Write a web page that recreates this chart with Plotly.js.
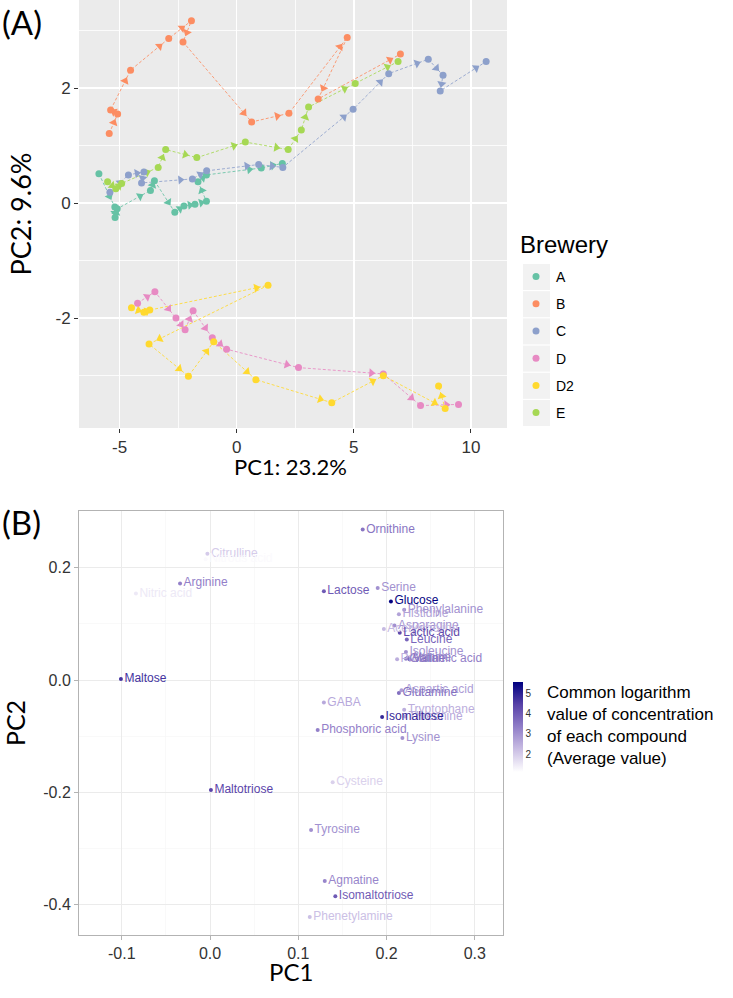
<!DOCTYPE html>
<html>
<head>
<meta charset="utf-8">
<script src="https://cdn.plot.ly/plotly-3.0.1.min.js"></script>
<style>html,body{margin:0;padding:0;background:#fff;}#plot{width:733px;height:998px;}</style>
</head>
<body>
<div id="plot"></div>
<script>
// ---------- Panel A data (PC scores, in path order) ----------
const breweries = ['A', 'B', 'C', 'D', 'D2', 'E'];
const pcA_x = [-5.88, -5.20, -5.19, -5.10, -3.68, -3.51, -2.64, -2.25, -1.78, -1.29, -1.65, -1.29, 1.05, 1.95];
const pcA_y = [0.51, -0.07, -0.25, -0.10, 0.22, 0.39, -0.16, -0.05, -0.02, 0.03, 0.37, 0.49, 0.61, 0.69];
const pcB_x = [-5.44, -5.08, -5.38, -4.53, -2.90, -1.93, -2.29, 0.64, 2.23, 4.72, 3.48, 6.99];
const pcB_y = [1.21, 1.55, 1.62, 2.31, 2.86, 3.17, 2.80, 1.41, 1.56, 2.88, 1.81, 2.59];
const pcC_x = [-5.41, -4.62, -3.96, -4.06, -1.89, -1.28, 0.94, 1.97, 4.97, 6.49, 8.18, 8.81, 8.69, 10.65];
const pcC_y = [0.19, 0.49, 0.54, 0.35, 0.42, 0.56, 0.67, 0.62, 1.63, 2.25, 2.50, 2.22, 1.95, 2.46];
const pcD_x = [-4.23, -3.49, -2.59, -2.20, -1.86, -1.04, -0.43, 2.64, 6.26, 7.85, 9.47];
const pcD_y = [-1.74, -1.54, -2.00, -2.20, -1.87, -2.34, -2.54, -2.86, -2.97, -3.52, -3.50];
const pcD2_x = [-4.49, -3.96, -3.71, 1.34, -3.74, -2.06, -0.98, 0.82, 4.06, 6.26, 8.90, 8.62];
const pcD2_y = [-1.82, -1.90, -1.86, -1.43, -2.45, -3.01, -2.41, -3.07, -3.47, -3.00, -3.57, -3.18];
const pcE_x = [-5.51, -5.16, -4.91, -3.35, -3.03, -1.70, 0.37, 2.20, 2.76, 3.07, 5.06, 6.89];
const pcE_y = [0.37, 0.25, 0.34, 0.62, 0.93, 0.79, 1.06, 0.93, 1.27, 1.67, 2.08, 2.46];
const breweryColors = ['#66C2A5', '#FC8D62', '#8DA0CB', '#E78AC3', '#FFD92F', '#A6D854'];

// tick labels
const A_xTickVals = [-5, 0, 5, 10];
const A_xTickText = ['-5', '0', '5', '10'];
const A_yTickVals = [-2, 0, 2];
const A_yTickText = ['-2', '0', '2'];
const B_xTickVals = [-0.1, 0, 0.1, 0.2, 0.3];
const B_xTickText = ['-0.1', '0.0', '0.1', '0.2', '0.3'];
const B_yTickVals = [-0.4, -0.2, 0, 0.2];
const B_yTickText = ['-0.4', '-0.2', '0.0', '0.2'];

// ---------- Panel B data (loadings) ----------
const compounds = ['Ornithine', 'Citrulline', 'Nitrous acid', 'Arginine', 'Nitric acid', 'Lactose', 'Serine', 'Glucose',
  'Phenylalanine', 'Histidine', 'Asparagine', 'Acetylcholine', 'Lactic acid', 'Leucine', 'Isoleucine', 'Proline',
  'Alanine', 'Valine', 'Glutamic acid', 'Maltose', 'Aspartic acid', 'Glutamine', 'GABA', 'Tryptophane', 'Threonine',
  'Isomaltose', 'Phosphoric acid', 'Lysine', 'Maltotriose', 'Cysteine', 'Tyrosine', 'Agmatine', 'Isomaltotriose', 'Phenetylamine'];
const loadPC1 = [0.173, -0.003, -0.005, -0.034, -0.084, 0.129, 0.190, 0.205,
  0.220, 0.214, 0.209, 0.197, 0.215, 0.223, 0.222, 0.212,
  0.224, 0.226, 0.222, -0.101, 0.217, 0.214, 0.129, 0.220, 0.221,
  0.195, 0.122, 0.218, 0.001, 0.139, 0.1145, 0.130, 0.142, 0.113];
const loadPC2 = [0.268, 0.225, 0.215, 0.172, 0.154, 0.158, 0.164, 0.140,
  0.125, 0.117, 0.097, 0.091, 0.084, 0.072, 0.050, 0.037,
  0.040, 0.037, 0.038, 0.002, -0.018, -0.023, -0.040, -0.053, -0.065,
  -0.066, -0.089, -0.103, -0.196, -0.182, -0.267, -0.358, -0.385, -0.422];
const logConc = [3.5, 2.0, 1.2, 3.3, 1.5, 4.0, 3.0, 5.5,
  3.0, 2.7, 3.0, 2.3, 4.3, 3.8, 3.0, 2.5,
  3.1, 3.7, 3.3, 4.7, 2.8, 3.6, 2.6, 2.5, 2.6,
  4.9, 3.3, 3.0, 4.4, 1.9, 3.0, 3.2, 4.0, 2.2];
const colorTicks = [2, 3, 4, 5];

// ---------- layout geometry (pixels) ----------
const W = 733, H = 998;
const A_left = 79, A_right = 507, A_top = 0, A_bottom = 428;
const B_left = 79, B_right = 503, B_top = 511, B_bottom = 935;
const A_xr = [-6.73, 11.54], A_yr = [-3.91, 3.53];
const B_xr = [-0.1485, 0.332], B_yr = [-0.454, 0.301];
const cmin = 1.12, cmax = 5.55;
const stops = [[0, [255, 255, 255]], [0.25, [202, 190, 228]], [0.5, [145, 126, 200]], [0.75, [88, 66, 168]], [1, [0, 0, 128]]];

function valueColor(v) {
  let t = Math.max(0, Math.min(1, (v - cmin) / (cmax - cmin)));
  for (let i = 1; i < stops.length; i++) {
    if (t <= stops[i][0]) {
      const f = (t - stops[i - 1][0]) / (stops[i][0] - stops[i - 1][0]);
      const c = stops[i - 1][1].map((a, k) => Math.round(a + (stops[i][1][k] - a) * f));
      return 'rgb(' + c.join(',') + ')';
    }
  }
  return 'rgb(0,0,128)';
}

const sx = (A_right - A_left) / (A_xr[1] - A_xr[0]);
const sy = (A_bottom - A_top) / (A_yr[1] - A_yr[0]);

const seriesX = [pcA_x, pcB_x, pcC_x, pcD_x, pcD2_x, pcE_x];
const seriesY = [pcA_y, pcB_y, pcC_y, pcD_y, pcD2_y, pcE_y];

const traces = [];
// dotted paths
breweries.forEach((b, i) => {
  traces.push({
    x: seriesX[i], y: seriesY[i], type: 'scatter', mode: 'lines',
    line: {color: breweryColors[i], width: 1, dash: '3px,2px'},
    opacity: 0.85, showlegend: false, hoverinfo: 'skip', xaxis: 'x', yaxis: 'y'
  });
});
// arrow heads near the end of each segment
breweries.forEach((b, i) => {
  const xs = seriesX[i], ys = seriesY[i];
  const ax = [], ay = [], ang = [];
  for (let k = 0; k < xs.length - 1; k++) {
    const dxp = (xs[k + 1] - xs[k]) * sx, dyp = (ys[k + 1] - ys[k]) * sy;
    const L = Math.hypot(dxp, dyp);
    if (L < 1) continue;
    const d = Math.min(12, 0.45 * L);
    ax.push(xs[k + 1] - dxp / L * d / sx);
    ay.push(ys[k + 1] - dyp / L * d / sy);
    ang.push(Math.atan2(dxp, dyp) * 180 / Math.PI);
  }
  traces.push({
    x: ax, y: ay, type: 'scatter', mode: 'markers',
    marker: {symbol: 'triangle-up', size: 8, color: breweryColors[i], angle: ang, line: {width: 0}},
    showlegend: false, hoverinfo: 'skip', xaxis: 'x', yaxis: 'y'
  });
});
// points
breweries.forEach((b, i) => {
  traces.push({
    x: seriesX[i], y: seriesY[i], type: 'scatter', mode: 'markers', name: b,
    legendgroup: b,
    marker: {size: 7, color: breweryColors[i]},
    xaxis: 'x', yaxis: 'y'
  });
});
// panel B
const txtColors = logConc.map(valueColor);
traces.push({
  x: loadPC1, y: loadPC2, text: compounds, type: 'scatter', mode: 'markers+text',
  textposition: 'middle right',
  textfont: {family: 'Liberation Sans, Arial, sans-serif', size: 12, color: txtColors},
  marker: {
    size: 4, color: logConc, cmin: cmin, cmax: cmax,
    colorscale: stops.map(s => [s[0], 'rgb(' + s[1].join(',') + ')']),
    showscale: true,
    colorbar: {
      x: 513 / W, xanchor: 'left', xref: 'paper', y: 1 - 682 / H, yanchor: 'top',
      len: 90, lenmode: 'pixels', thickness: 10, thicknessmode: 'pixels',
      outlinewidth: 0, tickvals: colorTicks, ticks: '', ticklabelposition: 'outside',
      tickfont: {size: 10, color: '#333', family: 'Liberation Sans, Arial, sans-serif'}, xpad: 0, ypad: 0
    }
  },
  showlegend: false, xaxis: 'x2', yaxis: 'y2'
});

const fontArial = 'Liberation Sans, Arial, sans-serif';
const fontCal = 'Lato, Carlito, sans-serif';

const legendBoxes = breweries.map((b, i) => ({
  type: 'rect', xref: 'paper', yref: 'paper', layer: 'below',
  x0: 523 / W, x1: 550 / W,
  y0: 1 - (290 + 27.2 * i) / H, y1: 1 - (264 + 27.2 * i) / H,
  fillcolor: '#F2F2F2', line: {width: 0}
}));

const layout = {
  width: W, height: H,
  margin: {l: 0, r: 0, t: 0, b: 0},
  paper_bgcolor: '#ffffff',
  font: {family: fontArial, color: '#000'},
  showlegend: true,
  legend: {
    x: 516 / W, xanchor: 'left', y: 1 - 261 / H, yanchor: 'top',
    font: {size: 14, family: fontArial, color: '#000'},
    tracegroupgap: 6, bgcolor: 'rgba(0,0,0,0)', itemwidth: 30
  },
  xaxis: {
    domain: [A_left / W, A_right / W], range: A_xr, anchor: 'y',
    showgrid: true, gridcolor: '#ffffff', gridwidth: 1.5, zeroline: false,
    tickvals: A_xTickVals, ticktext: A_xTickText, ticks: 'outside', ticklen: 4, tickcolor: '#333', tickwidth: 1,
    tickfont: {size: 17, color: '#333', family: fontArial},
    minor: {dtick: 2.5, tick0: 0, showgrid: true, gridcolor: '#ffffff', gridwidth: 0.8, ticks: ''},
    showline: false
  },
  yaxis: {
    domain: [1 - A_bottom / H, 1 - A_top / H], range: A_yr, anchor: 'x',
    showgrid: true, gridcolor: '#ffffff', gridwidth: 1.5, zeroline: false,
    tickvals: A_yTickVals, ticktext: A_yTickText, ticks: 'outside', ticklen: 4, tickcolor: '#333', tickwidth: 1,
    tickfont: {size: 17, color: '#333', family: fontArial},
    minor: {dtick: 1, tick0: 0, showgrid: true, gridcolor: '#ffffff', gridwidth: 0.8, ticks: ''},
    title: {text: 'PC2: 9.6%', font: {size: 27, family: fontCal, color: '#000'}, standoff: 16},
    showline: false
  },
  xaxis2: {
    domain: [B_left / W, B_right / W], range: B_xr, anchor: 'y2',
    showgrid: true, gridcolor: '#EBEBEB', gridwidth: 1, zeroline: false,
    tickvals: B_xTickVals, ticktext: B_xTickText, ticks: 'outside', ticklen: 4, tickcolor: '#B3B3B3',
    tickfont: {size: 16, color: '#333', family: fontArial},
    minor: {dtick: 0.05, tick0: 0, showgrid: true, gridcolor: '#F5F5F5', gridwidth: 0.6, ticks: ''},
    showline: true, linecolor: '#B3B3B3', linewidth: 1, mirror: true
  },
  yaxis2: {
    domain: [1 - B_bottom / H, 1 - B_top / H], range: B_yr, anchor: 'x2',
    showgrid: true, gridcolor: '#EBEBEB', gridwidth: 1, zeroline: false,
    tickvals: B_yTickVals, ticktext: B_yTickText, ticks: 'outside', ticklen: 4, tickcolor: '#B3B3B3',
    tickfont: {size: 16, color: '#333', family: fontArial},
    minor: {dtick: 0.1, tick0: 0, showgrid: true, gridcolor: '#F5F5F5', gridwidth: 0.6, ticks: ''},
    showline: true, linecolor: '#B3B3B3', linewidth: 1, mirror: true,
    title: {text: 'PC2', font: {size: 25, family: fontCal, color: '#000'}, standoff: 13}
  },
  shapes: [
    {type: 'rect', xref: 'paper', yref: 'paper', layer: 'below',
     x0: A_left / W, x1: A_right / W, y0: 1 - A_bottom / H, y1: 1 - A_top / H,
     fillcolor: '#EBEBEB', line: {width: 0}}
  ].concat(legendBoxes),
  plot_bgcolor: 'rgba(0,0,0,0)',
  annotations: [
    {text: '(A)', xref: 'paper', yref: 'paper', x: 0, y: 1, xanchor: 'left', yanchor: 'top',
     showarrow: false, font: {size: 33, family: fontCal, color: '#000'}},
    {text: '(B)', xref: 'paper', yref: 'paper', x: 0, y: 1 - 500 / H, xanchor: 'left', yanchor: 'top',
     showarrow: false, font: {size: 33, family: fontCal, color: '#000'}},
    {text: 'PC1: 23.2%', xref: 'paper', yref: 'paper', x: 290 / W, y: 1 - 466 / H, xanchor: 'center', yanchor: 'middle',
     showarrow: false, font: {size: 22, family: fontCal, color: '#000'}},
    {text: 'PC1', xref: 'paper', yref: 'paper', x: 291 / W, y: 1 - 971 / H, xanchor: 'center', yanchor: 'middle',
     showarrow: false, font: {size: 24, family: fontCal, color: '#000'}},
    {text: 'Brewery', xref: 'paper', yref: 'paper', x: 518 / W, y: 1 - 244 / H, xanchor: 'left', yanchor: 'middle',
     showarrow: false, font: {size: 24, family: fontArial, color: '#000'}},
    {text: 'Common logarithm<br>value of concentration<br>of each compound<br>(Average value)',
     xref: 'paper', yref: 'paper', x: 545 / W, y: 1 - 681 / H, xanchor: 'left', yanchor: 'top', align: 'left',
     showarrow: false, font: {size: 17, family: fontArial, color: '#000'}}
  ]
};

Plotly.newPlot('plot', traces, layout, {staticPlot: true, displayModeBar: false});
</script>
</body>
</html>
